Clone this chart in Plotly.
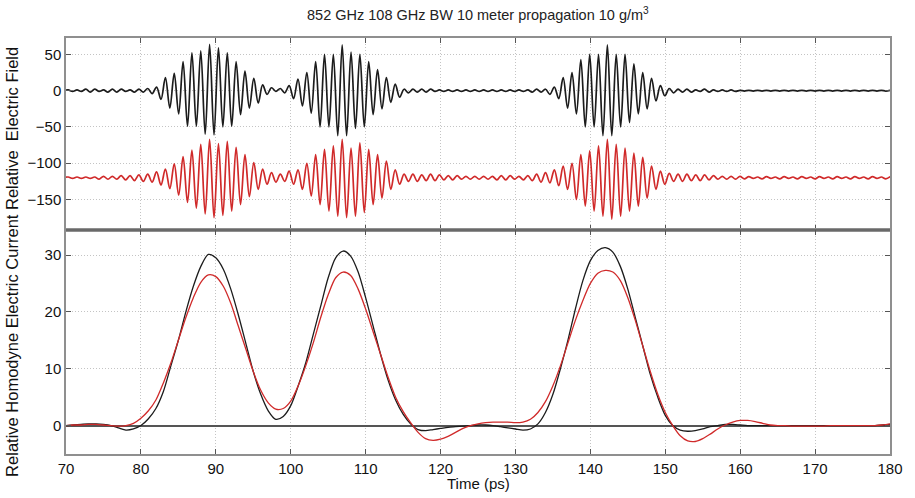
import numpy as np
import plotly.graph_objects as go
from plotly.subplots import make_subplots

# ---------------- data ----------------
# Top panel: carrier extrema (half-cycle samples) of the fields
FIELD_T0 = 69.70      # ps, time of first half-cycle sample
FIELD_HALF = 0.59     # ps, half-cycle spacing (852 GHz carrier)

black_field = [
    0, 1, -1, 1, -1, 2, -2, 2, -1, 1, -2, 2, -2, 2, -1, 1, -2, 2, -2, 3, -4,
    5, -12, 18, -24, 24, -32, 40, -49, 52, -49, 55, -60, 64, -61, 59, -50, 52, -49, 40, -33, 27, -24, 17, -17, 8, -5, 4,
    -1, 3,
    -3, 7, -11, 16, -21, 25, -31, 40, -50, 50, -50, 50, -62, 63, -62, 53, -52, 50, -50, 40, -33, 29, -25, 18, -16, 9, -9, 2,
    -3, 2, -2, 2, -2, 2, -1, 1, -1, 1, -1, 1, -1, 1, -1, 1, -1, 1, -1, 1, -1, 1, -1, 1, -1, 1, -1, 1, -2, 2, -2, 2,
    -5, 5, -11, 18, -24, 25, -32, 43, -50, 50, -50, 50, -62, 63, -62, 50, -50, 50, -44, 37, -32, 25, -25, 17, -14, 7, -7,
    3, -3, 2, -2, 2, -2, 1, -1, 2, -2, 1, -1, 1, -1, 1, -1,
    0.5, -0.5, 0.5, -0.5, 0.5, -0.5, 0.5, -0.5, 0.5, -0.5, 0.5, -0.5, 0.5, -0.5, 0.5, -0.5, 0.5, -0.5,
    0.5, -0.5, 0.5, -0.5, 0.5, -0.5, 0.5, -0.5, 0.5, -0.5, 0.5, -0.5, 0.5, -0.5, 0.5, -0.5, 0.5,
]

RED_OFFSET = -120
red_field = [
    0, 1, -1, 1, -1, 1, -1, 1, -2, 2,
    -2, 2, -2, 3, -3, 3, -4, 4, -5, 5, -6, 8, -10, 12, -15, 19, -24, 29, -34, 38, -42, 46, -50, 53, -55,
    47, -52, 50, -46, 42, -37, 32, -26, 21, -16, 12, -9, 7, -6,
    5, -5, 9, -9, 11, -16, 20, -25, 32, -37, 39, -46, 44, -53, 53, -55, 41, -53, 48, -48, 39, -37, 32, -28,
    23, -16, 11, -9, 5, -5, 5,
    -5, 4, -4, 5, -4, 4, -3, 3, -3, 3, -2, 2, -2, 2, -2, 2, -2, 2, -3, 3, -3, 3, -2, 2, -3, 3, -4, 5, -6,
    7, -7, 11, -11, 16, -16, 20, -30, 32, -39, 37, -46, 44, -53, 53, -57, 46, -53, 41, -46, 34, -39, 28, -28,
    16, -16, 9, -9,
    6, -5, 5, -5, 5, -4, 4, -4, 4, -3, 3, -2, 2, -2, 2, -2, 2,
    -1.5, 1.5, -1, 1, -1.5, 1.5, -1, 1, -1.5, 1.5, -1, 1, -1.5, 1.5, -1, 1, -1.5, 1.5, -1, 1,
    -1.5, 1.5, -1, 1, -1.5, 1.5, -1, 1, -1.5, 1.5, -1, 1, -1.5, 1.5,
]

# Bottom panel: homodyne current, sampled every 1 ps from 70 to 180
time_ps = list(range(70, 181))
black_current = [
    0, 0.1, 0.2, 0.3, 0.3, 0.2, 0, -0.4, -0.8, -0.6,                 # 70-79
    0, 1.2, 3, 6, 10.5, 15, 20, 24.5, 28, 30.1,                     # 80-89
    29.5, 27.5, 24, 19.5, 14.5, 9.5, 5.5, 2.6, 1.1, 1.6,            # 90-99
    3.5, 7, 11, 16, 21, 26, 29.5, 30.7, 29.8, 27,                   # 100-109
    22.5, 17.5, 12.5, 8, 4.5, 2, 0.3, -0.7, -0.9, -0.7,             # 110-119
    -0.5, -0.3, -0.2, -0.1, 0, 0.1, 0.1, 0, -0.2, -0.4,             # 120-129
    -0.6, -0.8, -0.6, 0.3, 2.3, 5.5, 10, 15, 20.5, 25.5,            # 130-139
    29, 30.8, 31.3, 30.5, 28, 24, 19, 14, 9, 5,                     # 140-149
    1.8, 0, -0.8, -1, -0.9, -0.6, -0.2, 0, 0.2, 0.2,                # 150-159
    0.1, 0, 0, 0, 0, 0, 0, 0, 0, 0,                                 # 160-169
    0, 0, 0, 0, 0, 0, 0, 0, 0, 0.1,                                 # 170-179
    0.2,                                                            # 180
]
red_current = [
    0, 0.1, 0.1, 0.2, 0.2, 0.1, 0, -0.1, 0, 0.4,                    # 70-79
    1.3, 2.6, 4.5, 7.5, 11, 15, 19, 22.5, 25.2, 26.5,               # 80-89
    26.2, 24.5, 21.5, 17.5, 13.5, 9.5, 6.2, 4, 2.9, 3,              # 90-99
    4.3, 7, 10.5, 14.5, 19, 23, 26, 27, 26.4, 24,                   # 100-109
    20.5, 16.5, 12.5, 8.5, 5, 2.5, 0.5, -1.2, -2.3, -2.6,           # 110-119
    -2.4, -1.9, -1.2, -0.5, 0, 0.3, 0.5, 0.6, 0.6, 0.6,             # 120-129
    0.5, 0.6, 1.1, 2.3, 4.2, 7, 10.5, 14.5, 18.5, 22,               # 130-139
    25, 26.8, 27.3, 27, 25.5, 22.5, 18.5, 14, 9.5, 5.5,             # 140-149
    2.3, 0, -1.8, -2.7, -2.8, -2.3, -1.5, -0.6, 0.1, 0.6,           # 150-159
    0.9, 0.9, 0.7, 0.4, 0.1, 0, 0, -0.1, -0.1, -0.1,                # 160-169
    -0.1, -0.1, 0, 0, 0, 0, 0, 0, 0, 0.1,                           # 170-179
    0.3,                                                            # 180
]

x_ticks = list(range(70, 181, 10))
top_ticks = [50, 0, -50, -100, -150]
bottom_ticks = [0, 10, 20, 30]

title_text = "852 GHz 108 GHz BW 10 meter propagation 10 g/m<sup>3</sup>"
ylabel_text = "Relative Homodyne Electric Current Relative  Electric Field"
xlabel_text = "Time (ps)"

# ---------------- figure ----------------
BLACK = "#1c1c1c"
RED = "#d02a2a"

t_black = FIELD_T0 + FIELD_HALF * np.arange(len(black_field))
t_red = FIELD_T0 + FIELD_HALF * np.arange(len(red_field))

fig = make_subplots(rows=2, cols=1, shared_xaxes=True, vertical_spacing=0,
                    row_heights=[0.4615, 0.5385])

fig.add_trace(go.Scatter(x=t_red, y=np.array(red_field) + RED_OFFSET, mode="lines",
                         line=dict(color=RED, width=1.7, shape="spline", smoothing=1.0),
                         hoverinfo="skip", showlegend=False), row=1, col=1)
fig.add_trace(go.Scatter(x=t_black, y=black_field, mode="lines",
                         line=dict(color=BLACK, width=1.7, shape="spline", smoothing=1.0),
                         hoverinfo="skip", showlegend=False), row=1, col=1)

fig.add_trace(go.Scatter(x=time_ps, y=black_current, mode="lines",
                         line=dict(color=BLACK, width=1.3, shape="spline", smoothing=0.8),
                         hoverinfo="skip", showlegend=False), row=2, col=1)
fig.add_trace(go.Scatter(x=time_ps, y=red_current, mode="lines",
                         line=dict(color=RED, width=1.3, shape="spline", smoothing=0.8),
                         hoverinfo="skip", showlegend=False), row=2, col=1)

axis_common = dict(showline=True, linecolor="#8f8f8f", linewidth=1.5, mirror="ticks",
                   ticks="inside", ticklen=5, tickcolor="#555555", tickwidth=1,
                   showgrid=True, gridcolor="#c4c4c4", griddash="1px,2px", gridwidth=1,
                   tickfont=dict(family="Arial", size=15, color="#111111"))

fig.update_xaxes(range=[70, 180], tickvals=x_ticks, zeroline=False, **axis_common)
fig.update_xaxes(showticklabels=False, row=1, col=1)
fig.update_xaxes(showticklabels=True, row=2, col=1)

fig.update_yaxes(range=[-192, 72.6], tickvals=top_ticks, zeroline=False, row=1, col=1, **axis_common)
fig.update_yaxes(range=[-5, 34.4], tickvals=bottom_ticks, zeroline=True, zerolinecolor="#555555",
                 zerolinewidth=2, row=2, col=1, **axis_common)

# divider between the two panels
fig.add_shape(type="line", xref="paper", yref="paper", x0=0, x1=1, y0=0.5385, y1=0.5385,
              line=dict(color="#5c5c5c", width=1.5))

fig.add_annotation(text=title_text, xref="paper", yref="paper", x=0.5, y=1.0577,
                   xanchor="center", yanchor="middle", showarrow=False,
                   font=dict(family="Arial", size=14.5, color="#222222"))
fig.add_annotation(text=ylabel_text, xref="paper", yref="paper", x=-0.0657, y=0.4615,
                   xanchor="center", yanchor="middle", textangle=-90, showarrow=False,
                   font=dict(family="Arial", size=16.5, color="#111111"))
fig.add_annotation(text=xlabel_text, xref="paper", yref="paper", x=0.5, y=-0.072,
                   xanchor="center", yanchor="middle", showarrow=False,
                   font=dict(family="Arial", size=15, color="#111111"))

fig.update_layout(width=915, height=498, margin=dict(l=66, r=21, t=38, b=44),
                  paper_bgcolor="white", plot_bgcolor="white", showlegend=False)

fig.write_html("out.html")
